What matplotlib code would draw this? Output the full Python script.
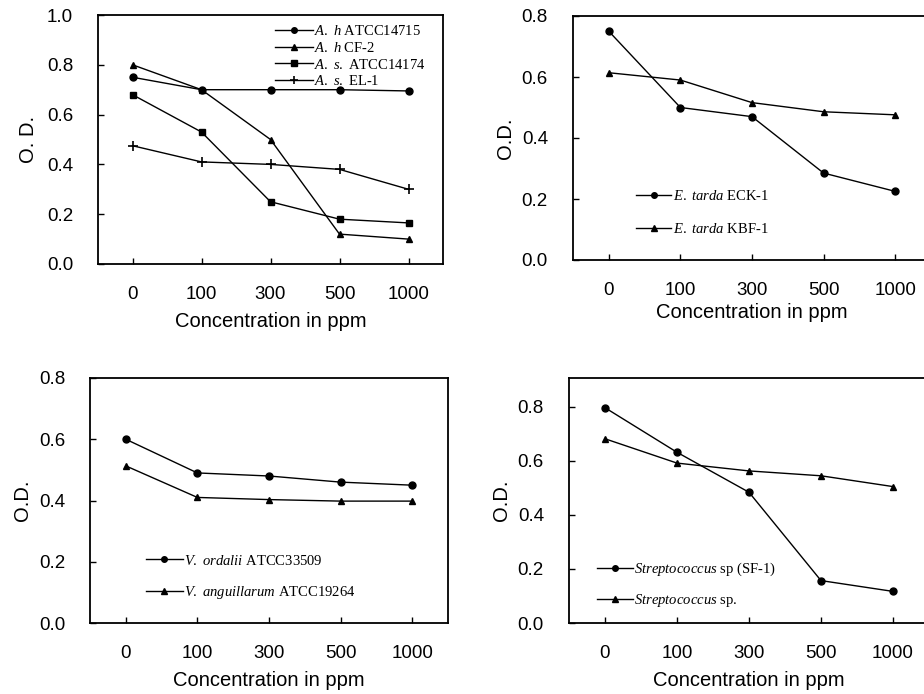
import matplotlib
matplotlib.use("Agg")
import matplotlib.pyplot as plt

plt.rcParams['font.family'] = ['Liberation Sans', 'DejaVu Sans']
plt.rcParams['mathtext.fontset'] = 'custom'
plt.rcParams['mathtext.it'] = 'Liberation Serif:italic'
plt.rcParams['mathtext.rm'] = 'Liberation Serif'

conc_labels = ["0", "100", "300", "500", "1000"]

# Panel A: Aeromonas
ah_atcc14715 = [0.75, 0.70, 0.70, 0.70, 0.695]
ah_cf2 = [0.80, 0.70, 0.50, 0.12, 0.10]
as_atcc14174 = [0.68, 0.53, 0.25, 0.18, 0.165]
as_el1 = [0.475, 0.41, 0.40, 0.38, 0.30]

# Panel B: Edwardsiella
et_eck1 = [0.75, 0.50, 0.47, 0.285, 0.225]
et_kbf1 = [0.614, 0.59, 0.516, 0.486, 0.476]

# Panel C: Vibrio
v_ordalii = [0.60, 0.49, 0.48, 0.46, 0.45]
v_anguillarum = [0.513, 0.41, 0.403, 0.398, 0.398]

# Panel D: Streptococcus
strep_sf1 = [0.797, 0.632, 0.484, 0.157, 0.117]
strep_sp = [0.682, 0.592, 0.563, 0.545, 0.505]

W, H = 924, 694
fig = plt.figure(figsize=(W / 100, H / 100), dpi=100)


def make_ax(left, right, top, bottom):
    return fig.add_axes([left / W, (H - bottom) / H, (right - left) / W, (bottom - top) / H])


def style(ax, ymax, yticks, ylabel, ylabel_pad, xlabel_pad=6):
    x = list(range(len(conc_labels)))
    ax.set_xlim(-0.5, 4.5)
    ax.set_ylim(0, ymax)
    ax.set_xticks(x)
    ax.set_xticklabels(conc_labels)
    ax.set_yticks(yticks)
    ax.set_yticklabels([f"{v:.1f}" for v in yticks])
    ax.tick_params(direction='in', length=4, width=1, labelsize=13.5)
    ax.tick_params(axis='y', pad=18)
    ax.tick_params(axis='x', pad=16)
    ax.set_xlabel("Concentration in ppm", fontsize=14.5, labelpad=xlabel_pad)
    ax.set_ylabel(ylabel, fontsize=14.5, labelpad=ylabel_pad)
    for s in ax.spines.values():
        s.set_linewidth(1.3)


lkw = dict(color='black', linewidth=1.0, markersize=5)
x = list(range(len(conc_labels)))
leg_prop = {'family': 'Liberation Serif', 'size': 10.5}

# Panel 1
ax1 = make_ax(98, 443, 15, 264)
ax1.plot(x, ah_atcc14715, marker='o', label=r'$\mathit{A.\ h}$ ATCC14715', **lkw)
ax1.plot(x, ah_cf2, marker='^', label=r'$\mathit{A.\ h}$ CF-2', **lkw)
ax1.plot(x, as_atcc14174, marker='s', label=r'$\mathit{A.\ s.}$ ATCC14174', **lkw)
ax1.plot(x, as_el1, marker='+', markersize=7, color='black', linewidth=1.0,
         markeredgewidth=1.2, label=r'$\mathit{A.\ s.}$ EL-1')
style(ax1, 1.0, [0.0, 0.2, 0.4, 0.6, 0.8, 1.0], "O. D.", 6)
ax1.legend(loc='upper right', bbox_to_anchor=(0.975, 1.0), frameon=False, prop=leg_prop,
           handlelength=2.6, handletextpad=0.1, labelspacing=0.2, borderaxespad=0.2,
           markerscale=0.8)

# Panel 2
ax2 = make_ax(573, 931, 16, 260)
ax2.plot(x, et_eck1, marker='o', label=r'$\mathit{E.\ tarda}$ ECK-1', **lkw)
ax2.plot(x, et_kbf1, marker='^', label=r'$\mathit{E.\ tarda}$ KBF-1', **lkw)
style(ax2, 0.8, [0.0, 0.2, 0.4, 0.6, 0.8], "O.D.", 5, xlabel_pad=3)
ax2.legend(loc='lower left', bbox_to_anchor=(0.14, 0.045), frameon=False, prop=leg_prop,
           handlelength=2.4, handletextpad=0.1, labelspacing=1.3, markerscale=0.8)

# Panel 3
ax3 = make_ax(90, 448, 378, 623)
ax3.plot(x, v_ordalii, marker='o', label=r'$\mathit{V.\ ordalii}$ ATCC33509', **lkw)
ax3.plot(x, v_anguillarum, marker='^', label=r'$\mathit{V.\ anguillarum}$ ATCC19264', **lkw)
style(ax3, 0.8, [0.0, 0.2, 0.4, 0.6, 0.8], "O.D.", 5)
ax3.legend(loc='lower left', bbox_to_anchor=(0.12, 0.035), frameon=False, prop=leg_prop,
           handlelength=2.5, handletextpad=0.1, labelspacing=1.15, markerscale=0.8)

# Panel 4
ax4 = make_ax(569, 929, 378, 623)
ax4.plot(x, strep_sf1, marker='o', label=r'$\mathit{Streptococcus}$ sp (SF-1)', **lkw)
ax4.plot(x, strep_sp, marker='^', label=r'$\mathit{Streptococcus}$ sp.', **lkw)
style(ax4, 0.907, [0.0, 0.2, 0.4, 0.6, 0.8], "O.D.", 5)
ax4.legend(loc='lower left', bbox_to_anchor=(0.04, 0.005), frameon=False, prop=leg_prop,
           handlelength=2.5, handletextpad=0.1, labelspacing=0.95, markerscale=0.8)

fig.savefig("out.png", dpi=100, facecolor='white')
